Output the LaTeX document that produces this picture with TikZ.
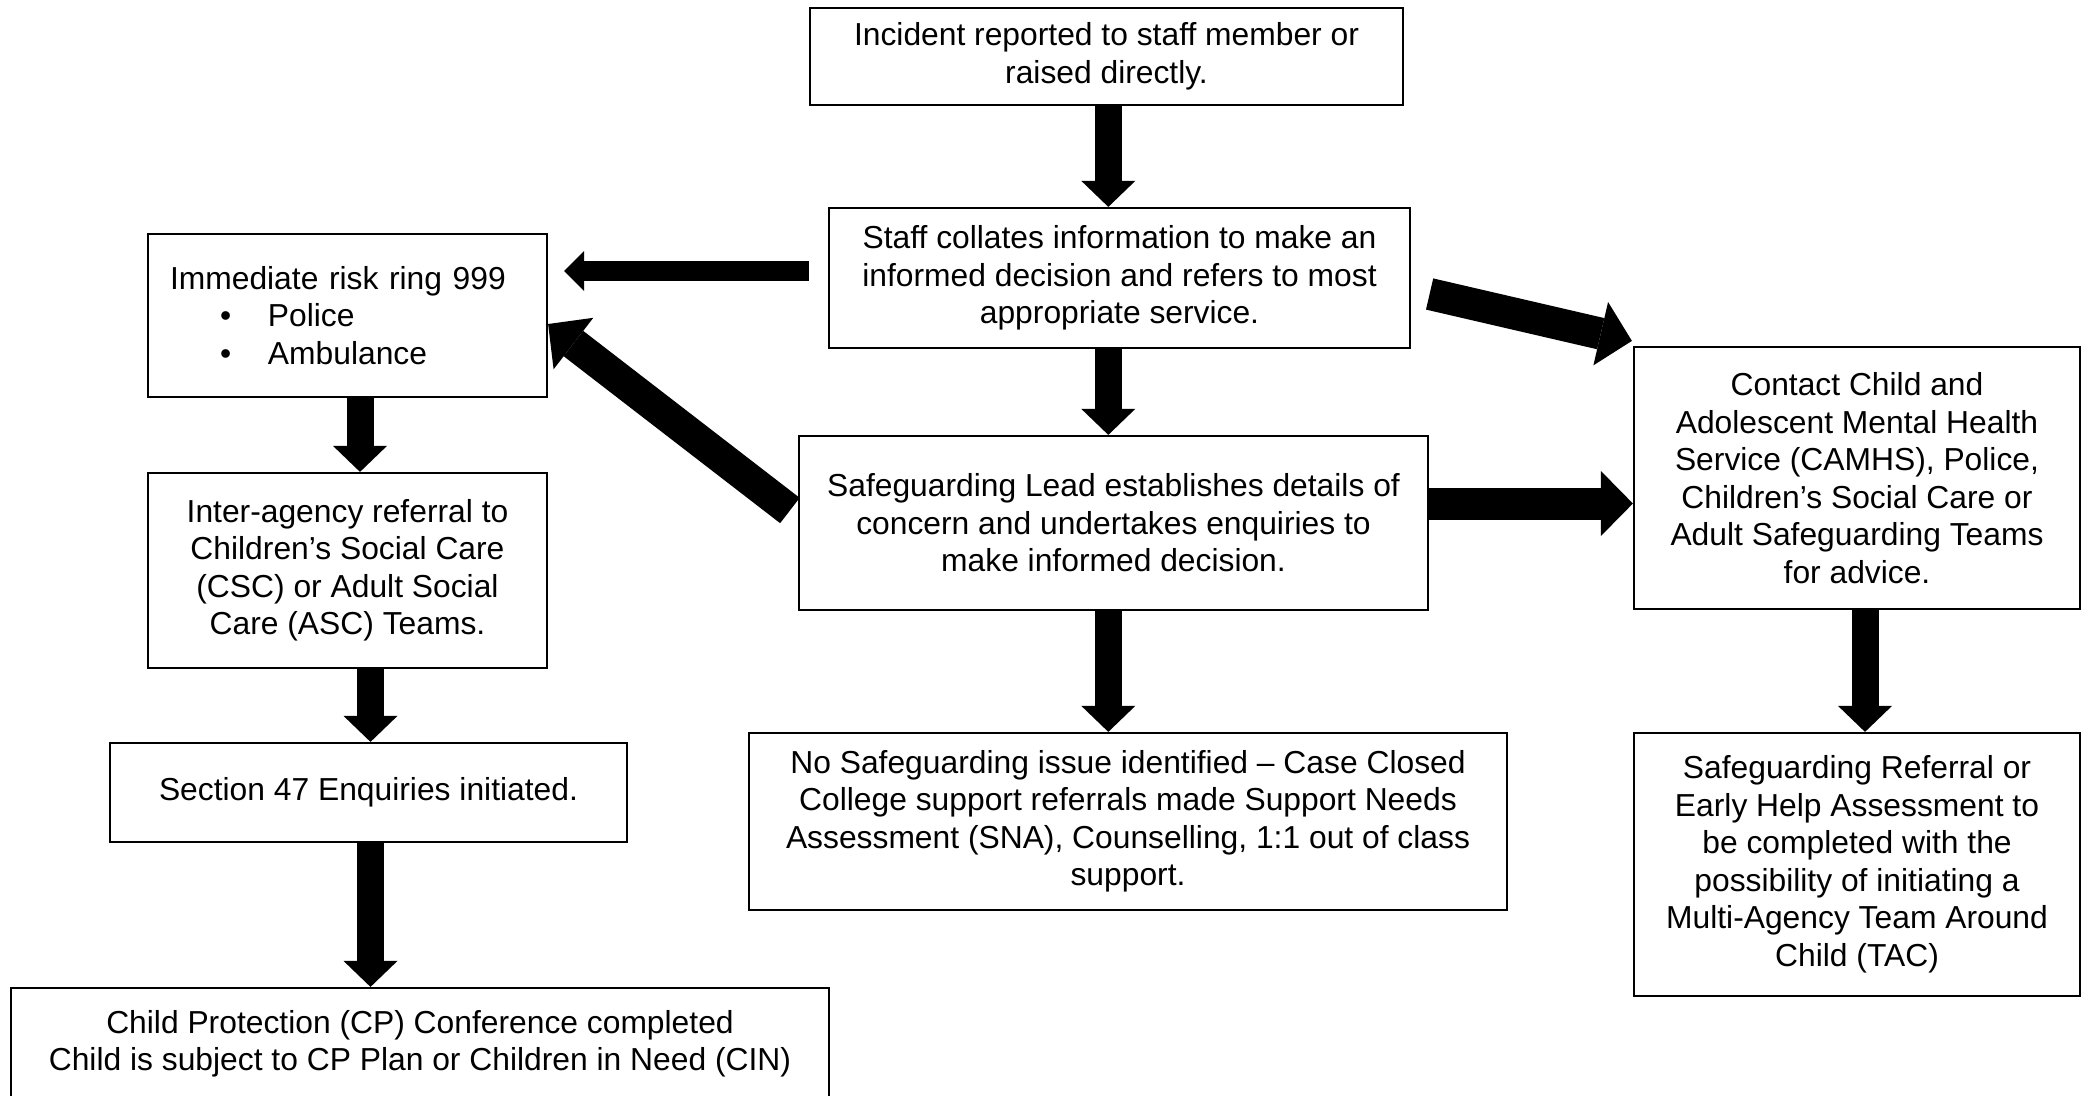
\documentclass[tikz,border=0pt]{standalone}
\usepackage{fontspec}
\setmainfont{Liberation Sans}
\usetikzlibrary{arrows.meta,calc}
\begin{document}
\begin{tikzpicture}[x=1pt,y=-1pt,
  box/.style={draw=black, line width=2.2pt, rectangle, inner sep=0pt, align=center,
    font=\fontsize{31.8}{37.5}\selectfont},
  varrow/.style={line width=27pt, -{Triangle[width=54pt,length=26pt,line width=0pt]}},
  bigarrow/.style={line width=32pt, -{Triangle[width=65pt,length=32pt,line width=0pt]}},
  smallarrow/.style={line width=20pt, -{Triangle[width=40pt,length=20pt,line width=0pt]}}]
\useasboundingbox (0,0) rectangle (2090,1095);
\fill[white] (0,0) rectangle (2090,1095);
\clip (0,0) rectangle (2090,1095);

% nodes
\node[box, minimum width=593pt, minimum height=97pt] (inc) at (1106.5,56.5)
  {Incident reported to staff member or\\raised directly.};
\node[box, minimum width=581pt, minimum height=140pt] (staff) at (1119.5,278)
  {Staff collates information to make an\\informed decision and refers to most\\appropriate service.};
\node[box, minimum width=399pt, minimum height=163pt, text width=355pt, inner xsep=22pt, align=left] (imm) at (347.5,315.5)
  {Immediate risk ring 999\\
   \hspace*{50pt}\makebox[48pt][l]{\textbullet}Police\\
   \hspace*{50pt}\makebox[48pt][l]{\textbullet}Ambulance};
\node[box, minimum width=399pt, minimum height=195pt] (inter) at (347.5,570.5)
  {Inter-agency referral to\\Children’s Social Care\\(CSC) or Adult Social\\Care (ASC) Teams.};
\node[box, minimum width=517pt, minimum height=99pt] (sec) at (368.5,792.5)
  {Section 47 Enquiries initiated.};
\node[box, minimum width=818pt, minimum height=112pt] (cp) at (420,1044)
  {Child Protection (CP) Conference completed\\Child is subject to CP Plan or Children in Need (CIN)};
\node[box, minimum width=629pt, minimum height=174pt] (lead) at (1113.5,523)
  {Safeguarding Lead establishes details of\\concern and undertakes enquiries to\\make informed decision.};
\node[box, minimum width=758pt, minimum height=177pt] (nosafe) at (1128,821.5)
  {No Safeguarding issue identified – Case Closed\\College support referrals made Support Needs\\Assessment (SNA), Counselling, 1:1 out of class\\support.};
\node[box, minimum width=446pt, minimum height=262pt] (contact) at (1857,478)
  {Contact Child and\\Adolescent Mental Health\\Service (CAMHS), Police,\\Children’s Social Care or\\Adult Safeguarding Teams\\for advice.};
\node[box, minimum width=446pt, minimum height=263pt] (ref) at (1857,864.5)
  {Safeguarding Referral or\\Early Help Assessment to\\be completed with the\\possibility of initiating a\\Multi-Agency Team Around\\Child (TAC)};

% guide coordinates for vertical arrows
\coordinate (xM) at (1108.3,0);
\coordinate (xL1) at (360,0);
\coordinate (xL2) at (370.5,0);
\coordinate (xR) at (1865,0);

% vertical arrows
\draw[varrow] (inc.south -| xM) -- (staff.north -| xM);
\draw[varrow] (staff.south -| xM) -- (lead.north -| xM);
\draw[varrow] (lead.south -| xM) -- (nosafe.north -| xM);
\draw[varrow] (imm.south -| xL1) -- (inter.north -| xL1);
\draw[varrow] (inter.south -| xL2) -- (sec.north -| xL2);
\draw[varrow] (sec.south -| xL2) -- (cp.north -| xL2);
\draw[varrow] (contact.south -| xR) -- (ref.north -| xR);

% horizontal and diagonal arrows
\coordinate (a4s) at ($(staff.west)+(-19,-7)$);
\draw[smallarrow] (a4s) -- ($(a4s -| imm.east)+(16,0)$);
\draw[bigarrow] ($(lead.west)+(-8,-12.5)$) -- ($(imm.east)+(0,8.5)$);
\draw[bigarrow] ($(staff.east)+(18.5,16)$) -- ($(contact.north west)+(-1,-5)$);
\coordinate (a7s) at ($(lead.east)+(0,-19.5)$);
\draw[bigarrow] (a7s) -- (a7s -| contact.west);
\end{tikzpicture}
\end{document}
